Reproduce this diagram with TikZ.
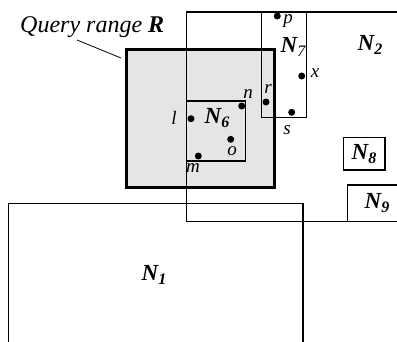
\documentclass[tikz,border=0pt]{standalone}
\usepackage{fontspec}
\setmainfont{Liberation Serif}
\newcommand\Nlab[1]{{\bfseries\itshape N\raisebox{-0.3ex}{\fontsize{16}{16}\selectfont #1}}}
\begin{document}
\begin{tikzpicture}[x=1pt,y=-1pt,
  box/.style={draw=black,line width=1.1pt},
  qbox/.style={draw=black,line width=3.3pt},
  pt/.style={circle,fill=black,inner sep=0pt,minimum size=7pt},
  big/.style={font=\fontsize{23}{23}\selectfont\itshape,inner sep=0pt},
  qfont/.style={font=\fontsize{24}{24}\selectfont\itshape,inner sep=0pt},
  small/.style={font=\fontsize{19}{19}\selectfont\itshape,inner sep=0pt}]
\useasboundingbox (0,0) rectangle (397,341);
\clip (0,0) rectangle (397,341);
% query range fill
\fill[gray!20] (126.7,49.3) rectangle (274.3,187.7);
% boxes
\draw[box] (186.7,12) rectangle (420,221.7);   % N2
\draw[box] (8.7,203.3) rectangle (303,360);    % N1
\draw[box] (261.7,12) rectangle (306.7,117.3); % N7
\draw[box] (186.7,101) rectangle (245.7,161);  % N6
\draw[box] (343.7,137.7) rectangle (385,170);  % N8
\draw[box] (347.7,185) rectangle (420,221.7);  % N9
% query border
\draw[qbox] (126.7,49.3) rectangle (274.3,187.7);
% labels
\node[qfont,anchor=base west] (qlab) at (20,32.7) {Query range \textbf{R}};
\coordinate (qa) at (77,40);
\coordinate (qb) at (121,58);
\draw[line width=0.8pt] (qa) -- (qb);
\node[big] (n2) at (370,45) {\Nlab{2}};
\node[big] (n7) at (293,47) {\textbf{N}\raisebox{-0.3ex}{\fontsize{16}{16}\selectfont 7}};
\node[big] (n6) at (217,118) {\Nlab{6}};
\node[big] (n8) at (364,154) {\Nlab{8}};
\node[big] (n9) at (377,203) {\Nlab{9}};
\node[big] (n1) at (154,275) {\Nlab{1}};
% points
\node[pt] (p) at (277.3,16) {};
\node[pt] (x) at (301.7,76) {};
\node[pt] (r) at (266,102) {};
\node[pt] (s) at (291.7,112.3) {};
\node[pt] (n) at (241.7,106) {};
\node[pt] (l) at (191,118.7) {};
\node[pt] (o) at (230.7,139.3) {};
\node[pt] (m) at (198.3,156) {};
\node[small] (pl) at (288,21) {p};
\node[small] (xl) at (315,73) {x};
\node[small] (rl) at (268,89) {r};
\node[small] (sl) at (287,130) {s};
\node[small] (nl) at (248,94) {n};
\node[small] (ll) at (174,118) {l};
\node[small] (ol) at (232,151) {o};
\node[small] (ml) at (193,168) {m};
\end{tikzpicture}
\end{document}
